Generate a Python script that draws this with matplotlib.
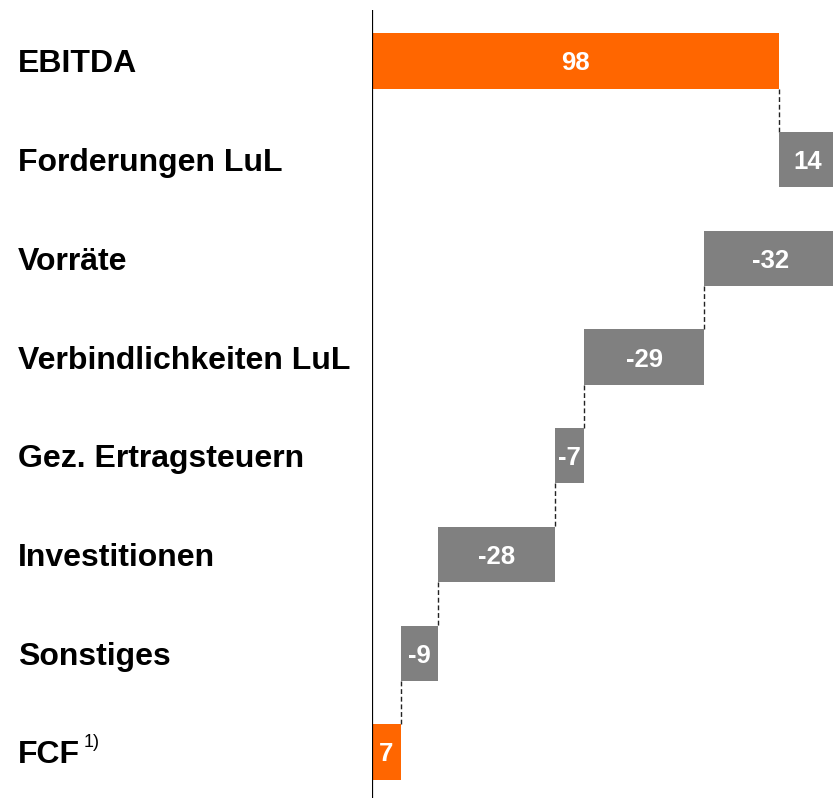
import matplotlib
matplotlib.use("Agg")
import matplotlib.pyplot as plt
import matplotlib.transforms as mtransforms

categories = ["EBITDA", "Forderungen LuL", "Vorräte", "Verbindlichkeiten LuL",
              "Gez. Ertragsteuern", "Investitionen", "Sonstiges", "FCF"]
values = [98, 14, -32, -29, -7, -28, -9, 7]
is_total = [True, False, False, False, False, False, False, True]

ORANGE = "#FF6600"
GRAY = "#808080"

plt.rcParams['font.family'] = ['Liberation Sans', 'DejaVu Sans']

W, H = 833, 798
fig = plt.figure(figsize=(W / 100, H / 100), dpi=100)
ax = fig.add_axes([372 / W, 0, (W - 372) / W, (H - 10) / H])

n = len(categories)
row_px = 98.7
span_units = (H - 10) / row_px
top = -51 / row_px
ax.set_ylim(top + span_units, top)
ax.set_xlim(0, 111)

starts = []
ends = []
run = 0
for v, tot in zip(values, is_total):
    if tot:
        s, e = 0, v
        run = v
    else:
        s, e = run, run + v
        run = e
    starts.append(s)
    ends.append(e)

h = 0.56
for i, (s, e, tot) in enumerate(zip(starts, ends, is_total)):
    left = min(s, e)
    width = abs(e - s)
    ax.barh(i, width, left=left, height=h, color=ORANGE if tot else GRAY,
            edgecolor='none', zorder=2)
    ax.text((s + e) / 2, i, str(values[i]), ha='center', va='center_baseline',
            color='white', fontsize=18.5, fontweight='bold', zorder=3)

# connectors
for i in range(n - 1):
    x = ends[i]
    ax.plot([x, x], [i + h / 2, i + 1 - h / 2], color='#222222', lw=1.0,
            ls=(0, (3.5, 2)), zorder=1)

ax.axvline(0, color='black', lw=1.6, zorder=4)
for sp in ax.spines.values():
    sp.set_visible(False)
ax.set_xticks([])
ax.set_yticks([])

trans = mtransforms.blended_transform_factory(fig.transFigure, ax.transData)
for i, c in enumerate(categories):
    t = ax.text(18 / W, i, c, transform=trans, ha='left', va='center_baseline',
                fontsize=23, fontweight='bold', color='black')
    if c == "FCF":
        fig.canvas.draw()
        bb = t.get_window_extent()
        ax.text(bb.x1 / W + 4 / W, i - 0.1, "1)", transform=trans, ha='left',
                va='center', fontsize=13, color='black')

fig.savefig("out.png", dpi=100)
